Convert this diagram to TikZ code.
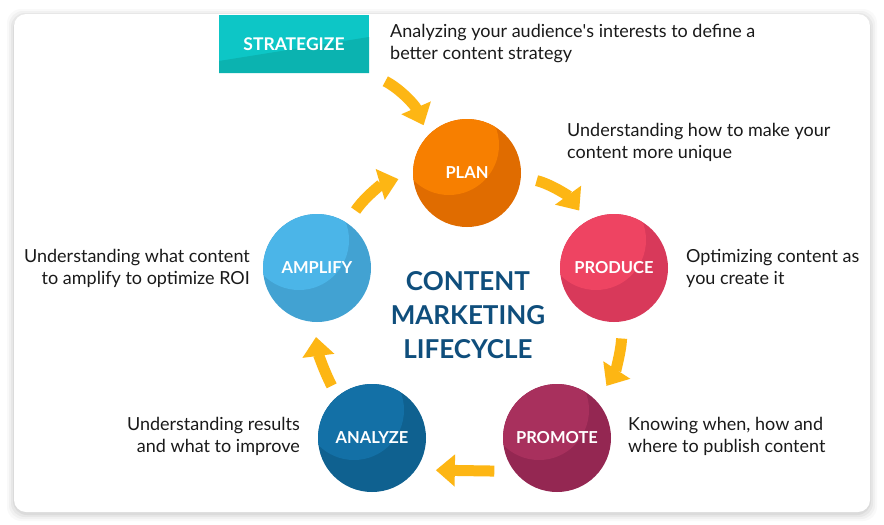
\documentclass[tikz,border=0pt]{standalone}
\usepackage{fontspec}
\setmainfont{Lato}
\usetikzlibrary{arrows.meta}

\definecolor{planlt}{HTML}{F77F00}
\definecolor{plandk}{HTML}{E06C00}
\definecolor{prodlt}{HTML}{EE4462}
\definecolor{proddk}{HTML}{D8395A}
\definecolor{promlt}{HTML}{A8305D}
\definecolor{promdk}{HTML}{942752}
\definecolor{analt}{HTML}{1370A6}
\definecolor{anadk}{HTML}{0F6190}
\definecolor{amplt}{HTML}{4BB5E8}
\definecolor{ampdk}{HTML}{42A2D2}
\definecolor{stratlt}{HTML}{0DC6C6}
\definecolor{stratdk}{HTML}{0BB3B0}
\definecolor{arrowyel}{HTML}{FDB614}
\definecolor{titleblue}{HTML}{0F4E7C}
\definecolor{textdark}{HTML}{1A1A1A}

\begin{document}
\begin{tikzpicture}[x=1pt,y=-1pt]
\tikzset{ stage/.style 2 args={circle, minimum size=108pt, inner sep=0pt, fill=#2, text=white,
            font=\fontsize{16.5}{19}\selectfont\bfseries,
            path picture={\fill[#1] ([shift={(-18pt,28pt)}]path picture bounding box.center) circle (50pt);}},
          flow/.style={line width=11pt, draw=arrowyel, -{Triangle[length=19pt,width=31pt]}},
          desc/.style={text=textdark, font=\fontsize{18}{22}\selectfont, inner sep=0pt},
}

\useasboundingbox (0,0) rectangle (884,525);
\fill[white] (0,0) rectangle (884,525);

% card with soft shadow
\foreach \s/\o in {7/0.025, 5/0.03, 3/0.04, 1/0.05}
  \fill[black, opacity=\o, rounded corners=14pt] (14-\s,14-\s+2) rectangle (870+\s,512+\s+2);
\fill[white, rounded corners=12pt] (14,14) rectangle (870,512);

\node [rectangle, minimum width=150pt, minimum height=58pt, fill=stratlt, text=white,
       font=\fontsize{17.5}{20}\selectfont\bfseries,
       path picture={\fill[stratdk] (path picture bounding box.south west)
          -- ([yshift=12pt]path picture bounding box.south west)
          -- ([yshift=36pt]path picture bounding box.south east)
          -- (path picture bounding box.south east) -- cycle;}] (strat) at (294,44) {STRATEGIZE};

\node [stage={planlt}{plandk}] (plan)    at (467,173) {PLAN};
\node [stage={prodlt}{proddk}] (produce) at (614,268) {PRODUCE};
\node [stage={promlt}{promdk}] (promote) at (557,438) {PROMOTE};
\node [stage={analt}{anadk}]   (analyze) at (372,438) {ANALYZE};
\node [stage={amplt}{ampdk}]   (amplify) at (317,268) {AMPLIFY};

\draw [flow, shorten <=18pt, shorten >=11pt] (strat.south east) to[bend left=20] (plan.136);
\draw [flow, shorten <=16pt, shorten >=13pt] (plan.-4)    to[bend left=20] (produce.120);
\draw [flow, shorten <=17pt, shorten >=18pt] (produce.-81) to[bend left=15] (promote.43);
\draw [flow, shorten <=20pt, shorten >=20pt] (promote.218) -- (analyze.-36);
\draw [flow, shorten <=12pt, shorten >=15pt] (analyze.130) to[bend left=10] (amplify.-93);
\draw [flow, shorten <=15pt, shorten >=15pt] (amplify.56)  to[bend left=20] (plan.182);

\node [font=\fontsize{26}{34}\selectfont\bfseries, text=titleblue, align=center] (title) at (468,315)
      {CONTENT\\MARKETING\\LIFECYCLE};

\node [desc, anchor=west, align=left]  (stratnote) at (390,44)  {Analyzing your audience\textquotesingle s interests to define a\\better content strategy};
\node [desc, anchor=west, align=left]  (plannote)  at (567,142) {Understanding how to make your\\content more unique};
\node [desc, anchor=west, align=left]  (prodnote)  at (686,268) {Optimizing content as\\you create it};
\node [desc, anchor=west, align=left]  (promnote)  at (628,436) {Knowing when, how and\\where to publish content};
\node [desc, anchor=east, align=right] (ananote)   at (300,436) {Understanding results\\and what to improve};
\node [desc, anchor=east, align=right] (ampnote)   at (250,268) {Understanding what content\\to amplify to optimize ROI};

\end{tikzpicture}
\end{document}
